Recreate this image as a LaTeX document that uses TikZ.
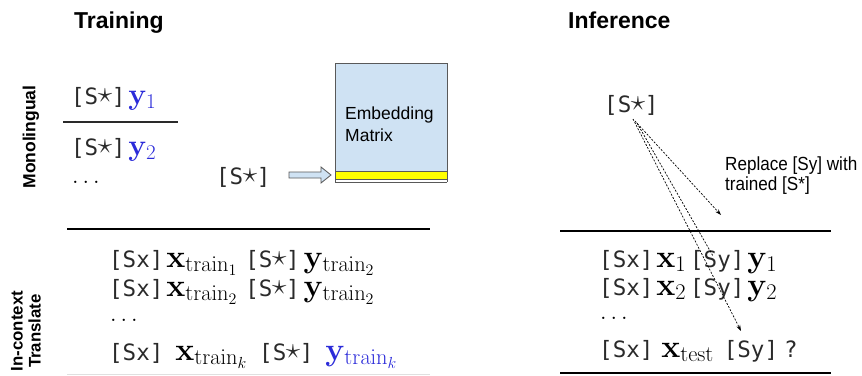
\RequirePackage{fix-cm}
\documentclass[tikz,border=0pt]{standalone}
\usepackage[no-math]{fontspec}
\setmainfont{Liberation Sans}
\newfontfamily\monof{DejaVu Sans Mono}
\usetikzlibrary{arrows.meta}
\definecolor{ink}{HTML}{2A2A2A}
\definecolor{yblue}{HTML}{2B2BD9}
\definecolor{embfill}{HTML}{CFE2F3}
\definecolor{embline}{HTML}{595959}
\definecolor{band}{HTML}{FFFF00}
\newcommand\tokn[1]{{\color{ink}\monof\fontsize{22.5}{26}\selectfont #1}}
\newcommand\stz{\makebox[0.602em]{\raisebox{1.2pt}{\scalebox{1.3}{$\star$}}}}
\newcommand\gp{\hspace{3pt}}
\newcommand\wgp{\hspace{12pt}}
\newcommand\hsq[1]{\scalebox{0.9}[1]{#1}}
\tikzset{
  rowtext/.style={anchor=base west, inner sep=0pt, font=\fontsize{32}{36}\selectfont},
  monorow/.style={anchor=base west, inner sep=0pt, font=\fontsize{30}{34}\selectfont},
  dotstext/.style={anchor=base west, inner sep=0pt, font=\fontsize{24}{28}\selectfont},
  title/.style={anchor=base west, inner sep=0pt, font=\bfseries\fontsize{23}{27}\selectfont},
  side/.style={rotate=90, inner sep=0pt, align=center, font=\bfseries\fontsize{17}{18}\selectfont},
  label/.style={anchor=base west, inner sep=0pt, font=\fontsize{17.5}{20}\selectfont},
  note/.style={anchor=base west, inner sep=0pt, font=\fontsize{19}{22}\selectfont},
  rule/.style={line width=1.8pt, black},
  thinrule/.style={line width=1.2pt, ink},
  dasharrow/.style={line width=0.7pt, dash pattern=on 2pt off 1.5pt, -{Stealth[length=6pt,width=4pt]}},
  dashline/.style={line width=0.7pt, dash pattern=on 2pt off 1.5pt},
}
\begin{document}
\begin{tikzpicture}[x=1pt,y=-1pt]
\useasboundingbox (0,0) rectangle (862,375);
% titles
\node[title] (train) at (74,28) {Training};
\node[title] (infer) at (568,28) {Inference};
\node[side, font=\bfseries\fontsize{17.5}{18}\selectfont] (mono) at (31,137) {Monolingual};
\node[side, font=\bfseries\fontsize{16.8}{18}\selectfont] (ict) at (26,331) {In-context\\Translate};
% monolingual
\node[monorow] (m1) at (71,104) {\tokn{[S\stz]}\gp$\color{yblue}\mathbf{y}_1$};
\draw[thinrule] (63,122) -- (178,122);
\node[monorow] (m2) at (71,155) {\tokn{[S\stz]}\gp$\color{yblue}\mathbf{y}_2$};
\node[dotstext] (m3) at (72,183) {$\ldots$};
% embedding
\node[monorow] (sstar) at (216,184) {\tokn{[S\stz]}};
\fill[embfill] (335,63) rectangle (447,171);
\fill[band] (335,171) rectangle (447,179);
\draw[embline, line width=1pt] (335,182) -- (335,63) -- (447,63) -- (447,182);
\draw[embline, line width=1pt] (335,171) -- (447,171);
\draw[embline, line width=1pt] (335,179) -- (447,179);
\draw[embline, line width=0.6pt] (335,182) -- (447,182);
\node[label] (emb1) at (345,119) {Embedding};
\node[label] (emb2) at (345,141) {Matrix};
\draw[embline, fill=embfill, line width=0.8pt]
  (289,172) -- (321,172) -- (321,167) -- (331,175) -- (321,183) -- (321,178) -- (289,178) -- cycle;
% in-context training
\draw[rule] (67,229) -- (430,229);
\node[rowtext] (t1) at (109,267) {\tokn{[Sx]}\gp$\mathbf{x}_{\mathrm{train}_1}$\hspace{8pt}\tokn{[S\stz]}\hspace{4pt}$\mathbf{y}_{\mathrm{train}_2}$};
\node[rowtext] (t2) at (109,296) {\tokn{[Sx]}\gp$\mathbf{x}_{\mathrm{train}_2}$\hspace{8pt}\tokn{[S\stz]}\hspace{4pt}$\mathbf{y}_{\mathrm{train}_2}$};
\node[dotstext] (t3) at (110,321) {$\ldots$};
\node[rowtext] (t4) at (109,360) {\tokn{[Sx]}\wgp$\mathbf{x}_{\mathrm{train}_k}$\wgp\tokn{[S\stz]}\wgp$\color{yblue}\mathbf{y}_{\mathrm{train}_k}$};
\draw[line width=0.8pt, black!12] (67,374) -- (430,374);
% inference
\node[monorow] (istar) at (604,112) {\tokn{[S\stz]}};
\node[note] (rep1) at (725,170) {\hsq{Replace [Sy] with}};
\node[note] (rep2) at (725,190) {\hsq{trained [S*]}};
\draw[rule] (560,231) -- (831,231);
\node[rowtext] (i1) at (599,267) {\tokn{[Sx]}\gp$\mathbf{x}_1$\hspace{4pt}\tokn{[Sy]}\gp$\mathbf{y}_1$};
\node[rowtext] (i2) at (599,295) {\tokn{[Sx]}\gp$\mathbf{x}_2$\hspace{4pt}\tokn{[Sy]}\gp$\mathbf{y}_2$};
\node[dotstext] (i3) at (600,319) {$\ldots$};
\node[rowtext] (i4) at (599,357) {\tokn{[Sx]}\hspace{8pt}$\mathbf{x}_{\mathrm{test}}$\hspace{10pt}\tokn{[Sy]}\hspace{6pt}\tokn{?}};
\draw[rule] (560,373) -- (831,373);
% dashed arrows
\coordinate (a0) at (633,119);
\coordinate (b0) at (637,123);
\coordinate (c0) at (635,121);
\coordinate (aend) at (741,331);
\coordinate (bend) at (713,256);
\coordinate (cend) at (721,215);
\draw[dasharrow] (a0) -- (aend);
\draw[dashline] (b0) -- (bend);
\draw[dasharrow] (c0) -- (cend);
\end{tikzpicture}
\end{document}
